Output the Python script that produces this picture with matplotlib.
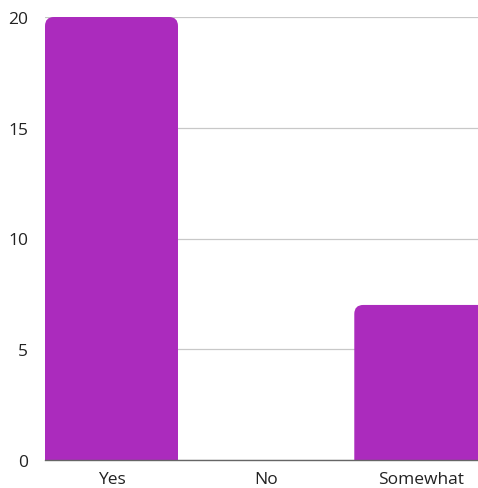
import matplotlib
matplotlib.use("Agg")
import matplotlib.pyplot as plt
from matplotlib.patches import FancyBboxPatch

categories = ["Yes", "No", "Somewhat"]
counts = [20, 0, 7]
yticks = [0, 5, 10, 15, 20]

plt.rcParams['font.family'] = ['Open Sans', 'DejaVu Sans']

fig = plt.figure(figsize=(4.78, 4.89), dpi=100)
ax = fig.add_axes([45 / 478, 28 / 489, 433 / 478, 443 / 489])

bar_color = "#ab2bbd"
width = 0.86
ax.set_xlim(-0.43, 2.37)
ax.set_ylim(0, 20)

# px per data unit, to keep the corner rounding round
px_x = 433 / 2.8
px_y = 443 / 20
for i, v in enumerate(counts):
    if v <= 0:
        continue
    r = 9 / px_x
    p = FancyBboxPatch((i - width / 2, -2), width, v + 2,
                       boxstyle=f"round,pad=0,rounding_size={r}",
                       mutation_aspect=px_x / px_y,
                       facecolor=bar_color, edgecolor="none", zorder=2)
    ax.add_patch(p)

ax.set_yticks(yticks)
ax.set_xticks(range(len(categories)))
ax.set_xticklabels(categories)
ax.tick_params(length=0, labelsize=12.5, colors="#222222")
ax.tick_params(axis="y", pad=12)
ax.tick_params(axis="x", pad=8)
ax.grid(axis="y", color="#c8c8c8", linewidth=0.9, zorder=0)
for s in ["top", "right", "left"]:
    ax.spines[s].set_visible(False)
ax.spines["bottom"].set_color("#666666")
ax.spines["bottom"].set_linewidth(1)
ax.spines["bottom"].set_zorder(3)

fig.savefig("out.png", dpi=100)
